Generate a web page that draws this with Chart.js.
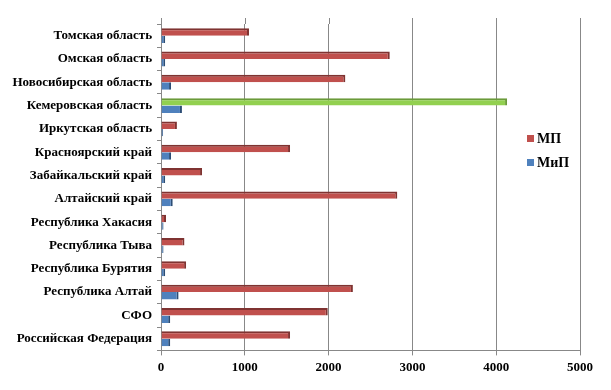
<!DOCTYPE html>
<html><head><meta charset="utf-8">
<script src="https://cdn.jsdelivr.net/npm/chart.js@4/dist/chart.umd.min.js"></script>
<style>html,body{margin:0;padding:0;background:#fff}#w{position:relative;width:611px;height:390px}</style>
</head><body><div id="w"><canvas id="c" width="611" height="390"></canvas></div>
<script>
const categories = ["Томская область","Омская область","Новосибирская область","Кемеровская область","Иркутская область","Красноярский край","Забайкальский край","Алтайский край","Республика Хакасия","Республика Тыва","Республика Бурятия","Республика Алтай","СФО","Российская Федерация"];
const seriesNames = ["МП","МиП"];
const mpValues = [1050,2730,2200,4130,190,1540,490,2820,60,280,300,2290,1990,1540];
const mipValues = [50,50,120,250,25,120,50,140,30,30,50,210,110,110];
const xTicks = [0,1000,2000,3000,4000,5000];

const RED = "#c0504d", RED_D = "#7f3331", BLUE = "#4f81bd", BLUE_D = "#2c4d75", GREEN = "#92d050", GREEN_D = "#6a9a3a";
const highlight = "Кемеровская область";
const font = {family: "'Liberation Serif', 'Times New Roman', serif", weight: "bold", size: 13};

const legendPlugin = {
  id: 'customLegend',
  beforeDatasetsDraw(chart) {
    // extend gridlines a little above the plot area (3D back wall look)
    const ctx = chart.ctx, xs = chart.scales.x, top = chart.chartArea.top;
    ctx.save();
    ctx.strokeStyle = "#888"; ctx.lineWidth = 1;
    xTicks.forEach(v => {
      const x = Math.round(xs.getPixelForValue(v)) + 0.5;
      ctx.beginPath(); ctx.moveTo(x, top - 6); ctx.lineTo(x, top); ctx.stroke();
    });
    ctx.restore();
  },
  afterDraw(chart) {
    const ctx = chart.ctx;
    const items = [{t: seriesNames[0], c: RED, y: 138}, {t: seriesNames[1], c: BLUE, y: 162}];
    ctx.save();
    ctx.font = "bold 14px 'Liberation Serif', serif";
    ctx.textBaseline = "middle";
    items.forEach(it => {
      ctx.fillStyle = it.c;
      ctx.fillRect(527, it.y - 3, 7, 7);
      ctx.fillStyle = "#000";
      ctx.fillText(it.t, 537, it.y + 1);
    });
    ctx.restore();
  }
};

new Chart(document.getElementById('c'), {
  type: 'bar',
  data: {
    labels: categories,
    datasets: [
      {label: seriesNames[0], data: mpValues,
       backgroundColor: categories.map(c => c === highlight ? GREEN : RED),
       borderColor: categories.map(c => c === highlight ? GREEN_D : RED_D),
       borderWidth: {top: 2, right: 2, bottom: 0, left: 0}, borderSkipped: false},
      {label: seriesNames[1], data: mipValues, backgroundColor: BLUE, borderColor: BLUE_D,
       borderWidth: {top: 0, right: 2, bottom: 0, left: 0}, borderSkipped: false}
    ]
  },
  options: {
    indexAxis: 'y',
    responsive: false,
    animation: false,
    categoryPercentage: 0.64,
    barPercentage: 1.0,
    layout: {padding: {top: 24, right: 31, left: 0, bottom: 11}},
    plugins: {legend: {display: false}, tooltip: {enabled: false}},
    scales: {
      x: {
        min: 0, max: 5000,
        afterBuildTicks: s => { s.ticks = xTicks.map(v => ({value: v})); },
        grid: {color: "#888", lineWidth: 1, tickLength: 5, drawTicks: true},
        border: {color: "#888"},
        ticks: {font: font, color: "#000", padding: 4, maxRotation: 0, callback: v => String(v)}
      },
      y: {
        afterFit: s => { s.width = 161; },
        grid: {drawOnChartArea: false, color: "#888", tickLength: 4, offset: true},
        border: {color: "#888"},
        ticks: {font: font, color: "#000", padding: 5, autoSkip: false}
      }
    }
  },
  plugins: [legendPlugin]
});
</script></body></html>
